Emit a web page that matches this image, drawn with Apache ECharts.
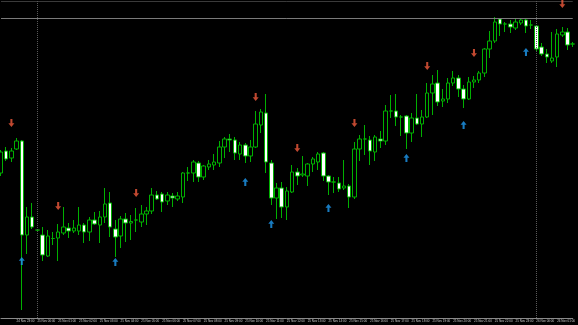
<!DOCTYPE html>
<html>
<head>
<meta charset="utf-8">
<script src="https://cdn.jsdelivr.net/npm/echarts@6/dist/echarts.min.js"></script>
<style>
html,body{margin:0;padding:0;background:#000;}
#chart{width:578px;height:325px;}
</style>
</head>
<body>
<div id="chart"></div>
<script>
// 15-minute bars, 24 Nov 22:15 .. 26 Nov 01:45
// OHLC values (price points): [open, close, low, high]
var opens  = [145,167,160,169,177,83,101,88,83,62,79.5,80,85,90,87,87,93,86,98,93,101,115,89,82,99,95,98,96,104,107,123,124,117,122,119,121,145,145,155,141,151,153,155,171,179,178,164,173,162,171,193,205,155,120,130,111,126,146,143,142,154,156,165,142,136,135,130,132,121,169,179,178,166,179,177,207,207,201,202,185,200,194,201,225,235,217,219,235,240,229,219,236,238,245,269,277,299,294,294,290,295,298,293,292,271,264,257,261,283,286,274];
var closes = [166,159,167,177,83,101,91,88,63,82,79.5,86,91,87,90,93,86,98,94,101,114,91,81,99,95,96.5,98,104,107,123,119,116,123,120,122,145,145,156,141,152,154,156,171,179,178,165,173,162,171,194,206,156,120,130,111,127,146,142,144,154,159,164,142,136,136,129,132,121,169,179,179,167,181,177,207,207,201,201,185,200,194,201,225,234,216,219,235,240,229,219,236,238,245,269,277,296,294,294,291,296,298,292,293,269,264,261,260,284,286,273,274];
var lows   = [142,157,156,168,8,64,89,87,57,61,73,57,83,80,85,83,75,77,93,75,95,81,61,70,76,78,86,91,93,104,118,106,113,111,117,115,137,136,136,138,148,148,151,160,166,158,158,155,156,170,185,145,113,99,100,98,125,133,141,132,146,148,137,123,125,126,128,110,119,157,163,153,157,170,173,200,192,182,169,176,193,181,200,203,212,211,215,232,221,210,218,230,235,241,260,275,282,286,285,288,293,285,289,266,262,255,255,251,281,268,271];
var highs  = [168,171,170,180,178,111,115,89,91,88,86,94,111,95,98,111,95,101,106,107,130,126,98,102,105,103,110,113,111,130,127,126,126,125,126,146,151,158,157,153,158,164,177,181,184,181,176,175,178,207,209,224,158,135,136,131,153,150,162,155,161,166,166,143,141,141,158,134,176,183,193,182,183,187,213,223,224,203,203,205,224,208,235,243,248,229,240,247,243,233,241,242,247,270,287,301,300,296,298,299,300,300,298,293,275,269,286,289,291,290,276];

// signal arrows: [bar index, price]
var downArrows = [[2,195],[11,112],[26,125],[49,221],[57,170],[68,195],[82,252],[91,265],[108,314]];
var upArrows   = [[4,57],[22,56],[47,136],[52,94],[63,110],[78,160],[89,193],[101,266]];

// time axis tick labels (every hour), and their bar indices
var tickIndex  = [3,7,11,15,19,23,27,31,35,39,43,47,51,55,59,63,67,71,75,79,83,87,91,95,99,103,107];
var tickLabels = ["24 Nov 23:00","25 Nov 00:00","25 Nov 01:00","25 Nov 02:00","25 Nov 03:00","25 Nov 04:00",
  "25 Nov 05:00","25 Nov 06:00","25 Nov 07:00","25 Nov 08:00","25 Nov 09:00","25 Nov 10:00","25 Nov 11:00",
  "25 Nov 12:00","25 Nov 13:00","25 Nov 14:00","25 Nov 15:00","25 Nov 16:00","25 Nov 17:00","25 Nov 18:00",
  "25 Nov 19:00","25 Nov 20:00","25 Nov 21:00","25 Nov 22:00","25 Nov 23:00","26 Nov 00:00","26 Nov 01:00"];
var daySeparators = [7,103];
var levelLine = 300;

var categories = [];
for (var i = 0; i < opens.length; i++) categories.push(String(i));
var labelMap = {};
tickIndex.forEach(function(t, k){ labelMap[t] = tickLabels[k]; });

var ohlc = [];
for (var j = 0; j < opens.length; j++) ohlc.push([opens[j], closes[j], lows[j], highs[j]]);

var chart = echarts.init(document.getElementById('chart'), null, {renderer:'canvas'});
var upPath = 'path://M3,0 L6.2,3.8 L4.1,3.8 L4.1,8 L1.9,8 L1.9,3.8 L-0.2,3.8 Z';
chart.setOption({
  backgroundColor: '#000000',
  animation: false,
  grid: {left: 1, right: 0, top: 0, bottom: 7},
  xAxis: {
    type: 'category',
    data: categories,
    boundaryGap: false,
    axisLine: {show: true, lineStyle: {color: '#8a8a8a', width: 1}},
    axisTick: {show: false},
    splitLine: {show: false},
    axisLabel: {
      show: true,
      interval: function(idx){ return labelMap[idx] !== undefined; },
      formatter: function(v, idx){ return labelMap[idx] || ''; },
      align: 'left',
      color: '#c8c8c8',
      fontSize: 3,
      fontFamily: 'Liberation Sans',
      margin: 2
    }
  },
  yAxis: {
    type: 'value',
    min: 0, max: 318,
    show: false,
    splitLine: {show: false}
  },
  series: [
    {
      type: 'candlestick',
      data: ohlc,
      barWidth: 4,
      clip: true,
      itemStyle: {
        color: '#000000',
        color0: '#ffffff',
        borderColor: '#00b000',
        borderColor0: '#00b000',
        borderWidth: 1
      },
      markLine: {
        silent: true,
        symbol: ['none','none'],
        label: {show: false},
        data: [
          {yAxis: levelLine, lineStyle: {color: '#7a7a7a', type: 'solid', width: 1}},
          {yAxis: 317, lineStyle: {color: '#3a3a3a', type: 'solid', width: 1}},
          {xAxis: daySeparators[0], lineStyle: {color: '#5a5a5a', type: 'dotted', width: 1}},
          {xAxis: daySeparators[1], lineStyle: {color: '#5a5a5a', type: 'dotted', width: 1}}
        ]
      }
    },
    {
      type: 'scatter',
      data: downArrows,
      symbol: upPath,
      symbolRotate: 180,
      symbolSize: [6, 8],
      itemStyle: {color: '#f05a3c'},
      z: 5
    },
    {
      type: 'scatter',
      data: upArrows,
      symbol: upPath,
      symbolSize: [6, 8],
      itemStyle: {color: '#1e9af0'},
      z: 5
    }
  ]
});
</script>
</body>
</html>
